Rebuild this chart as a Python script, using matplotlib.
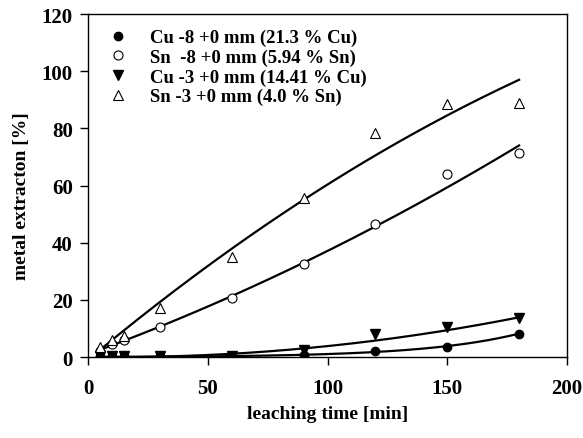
import numpy as np
import matplotlib
matplotlib.use("Agg")
import matplotlib.pyplot as plt

plt.rcParams['font.family'] = ['Liberation Serif', 'DejaVu Serif']
plt.rcParams['font.weight'] = 'bold'

# leaching time [min]
time = [5, 10, 15, 30, 60, 90, 120, 150, 180]

# metal extraction [%]
cu_8 = [0.3, 0.3, 0.3, 0.3, 0.3, 0.8, 2.0, 3.6, 8.2]
sn_8 = [2.0, 4.5, 6.0, 10.5, 20.5, 32.5, 46.5, 64.0, 71.5]
cu_3 = [0.3, 0.3, 0.3, 0.3, 0.5, 2.3, 8.0, 10.5, 13.5]
sn_3 = [3.5, 6.0, 7.5, 17.0, 35.0, 55.5, 78.5, 88.5, 89.0]

labels = ["Cu -8 +0 mm (21.3 % Cu)", "Sn  -8 +0 mm (5.94 % Sn)",
          "Cu -3 +0 mm (14.41 % Cu)", "Sn -3 +0 mm (4.0 % Sn)"]

# trend lines (polynomial coefficients, highest power first)
sn_3_fit = [-0.000863, 0.6996, -0.976]
sn_8_fit = [0.000553, 0.3063, 0.955]
cu_3_fit = [0.00049, -0.0113, 0.044]
cu_8_fit = [0.092, 0.025]  # a * (exp(k t) - 1)

fig = plt.figure(figsize=(5.83, 4.39), dpi=100)
ax = fig.add_axes([0.151, 0.1845, 0.8216, 0.7813])

t = np.linspace(5, 180, 200)
ax.plot(t, np.polyval(sn_3_fit, t), color='black', lw=1.6, zorder=2)
ax.plot(t, np.polyval(sn_8_fit, t), color='black', lw=1.6, zorder=2)
ax.plot(t, np.polyval(cu_3_fit, t), color='black', lw=1.6, zorder=2)
ax.plot(t, cu_8_fit[0] * (np.exp(cu_8_fit[1] * t) - 1), color='black', lw=1.6, zorder=2)

ax.plot(time, cu_8, 'o', color='black', ms=6, ls='none', label=labels[0], zorder=3)
ax.plot(time, sn_8, 'o', mfc='white', mec='black', mew=0.8, ms=6.5, ls='none', label=labels[1], zorder=3)
ax.plot(time, cu_3, 'v', color='black', ms=6.5, ls='none', label=labels[2], zorder=3)
ax.plot(time, sn_3, '^', mfc='white', mec='black', mew=0.8, ms=6.5, ls='none', label=labels[3], zorder=3)

ax.set_xlim(0, 200)
ax.set_ylim(0, 120)
ax.set_xticks([0, 50, 100, 150, 200])
ax.set_yticks([0, 20, 40, 60, 80, 100, 120])
ax.tick_params(direction='out', length=6, width=1, labelsize=15, top=False, right=False)
ax.tick_params(axis='x', pad=9)
ax.tick_params(axis='y', pad=5)
for s in ax.spines.values():
    s.set_linewidth(1)

ax.set_xlabel("leaching time [min]", fontsize=14, fontweight='bold', labelpad=5)
ax.set_ylabel("metal extracton [%]", fontsize=14, fontweight='bold')
ax.yaxis.set_label_coords(-0.122, 0.472)

leg = ax.legend(loc='upper left', bbox_to_anchor=(0.006, 1.0), frameon=False,
                handletextpad=1.0, labelspacing=0.13, borderaxespad=0.39,
                handlelength=1.35, prop={'weight': 'bold', 'size': 13.5})

fig.savefig("out.png", dpi=100)
